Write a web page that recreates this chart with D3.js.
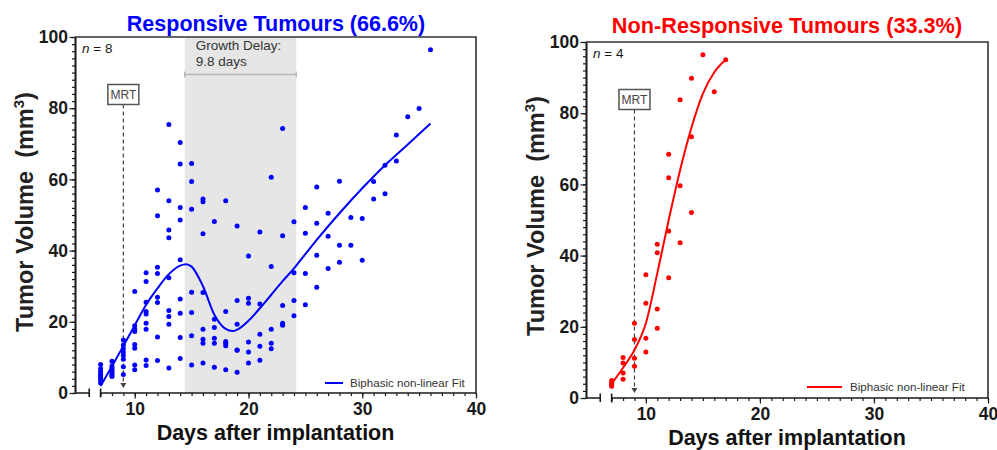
<!DOCTYPE html>
<html><head><meta charset="utf-8">
<script src="https://cdn.jsdelivr.net/npm/d3@7"></script>
<style>html,body{margin:0;padding:0;background:#fff}svg{display:block;font-family:"Liberation Sans",Arial,sans-serif}</style>
</head><body><svg id="c" width="997" height="450"></svg>
<script>
// ---------- DATA ----------
const respDays = [7,8,9,10,11,12,13,14,15,16,17,18,19,20,21,22,23,24,25,26,27,28,29,30,31,32,33,34,35,36];
const respVolumes = [
  [8.0,6.8,6.0,5.3,4.8,4.2,3.5,2.8],
  [8.9,7.6,7.0,6.5,6.0,5.5,5.0,4.6],
  [14.9,13.5,12.5,11.5,10.5,9.5,7.4,5.2],
  [28.5,18.9,17.9,17.3,13.6,12.6,7.9,6.5],
  [33.8,31.3,25.5,22.9,22.2,19.6,17.9,9.3,7.7],
  [57.0,49.8,35.3,33.6,26.9,25.4,15.7,9.1],
  [75.4,54.0,45.8,43.6,32.4,23.2,21.5,19.3,7.0],
  [70.4,64.3,52.1,48.6,37.4,26.4,22.4,15.6,9.7],
  [64.5,59.4,51.6,28.3,22.6,16.1,7.9],
  [54.5,53.7,44.7,28.2,17.9,15.1,14.0,8.4],
  [48.2,20.7,18.4,15.4,14.0,7.2],
  [54.0,22.9,14.5,14.0,13.3,6.5],
  [46.9,26.0,19.3,12.1,12.0,5.8],
  [38.5,26.6,25.2,14.3,11.5,8.4],
  [45.2,25.0,16.5,13.1,9.2],
  [60.6,35.5,17.9,14.0,12.4],
  [74.3,44.2,24.6,19.6,19.0],
  [48.1,33.8,26.0,21.7],
  [52.1,44.9,33.6,24.8],
  [57.9,47.7,38.7,29.7],
  [50.5,44.0,35.0],
  [59.5,41.5,36.7],
  [49.3,41.5],
  [49.0,37.3],
  [59.4,54.5],
  [64.0,56.0],
  [72.5,65.2],
  [77.6],
  [79.9],
  [96.4]
];
const respFitDays = [7,8,9,10,11,12,13,14,14.5,15,16,17,18,18.6,19,20,21,22,23,24,25,26,28,30,32,34,36];
const respFitVol  = [2.0,7.5,13.2,19.0,24.8,29.4,33.4,35.8,36.2,35.5,30.0,22.0,18.0,17.4,17.8,20.3,23.8,27.6,31.4,35.0,39.0,43.0,50.5,57.5,64.0,69.8,75.7];

const nonDays = [7,8,9,10,11,12,13,14,15,16,17];
const nonVolumes = [
  [4.9,4.3,3.8,3.3],
  [11.4,9.8,7.0,5.3],
  [21.0,16.4,11.2,8.9],
  [34.6,26.6,16.8,12.9],
  [43.2,40.8,25.0,19.6],
  [68.5,61.9,46.9,33.8],
  [83.8,59.6,43.6],
  [89.8,73.4,52.1],
  [96.4],
  [86.0],
  [95.0]
];
const nonFitDays = [7,8,9,10,11,12,13,14,15,16,17];
const nonFitVol  = [4.0,8.5,13.5,21.0,35.0,50.0,64.0,76.0,85.5,91.5,95.0];

const xMajorTicks = [10,20,30,40];
const yMajorTicks = [0,20,40,60,80,100];
const mrtDay = 9;
const growthDelayStart = 14.4, growthDelayEnd = 24.2;
const respTitle = "Responsive Tumours (66.6%)";
const nonTitle = "Non-Responsive Tumours (33.3%)";
const legendLabel = "Biphasic non-linear Fit";

// ---------- DRAW ----------
const svg = d3.select("#c");
const INK = "#1a1a1a";

function panel(o) {
  const g = svg.append("g");
  const x = d3.scaleLinear().domain([4.75, 40]).range([o.left, o.right]);
  const y = d3.scaleLinear().domain([0, 100]).range([o.bottom, o.top]);

  // growth delay shading
  if (o.delay) {
    g.append("rect").attr("x", x(growthDelayStart)).attr("y", o.top)
      .attr("width", x(growthDelayEnd) - x(growthDelayStart)).attr("height", o.bottom - o.top)
      .attr("fill", "#e6e6e6");
    const by = o.top + 37.5;
    g.append("path").attr("d", `M${x(growthDelayStart)},${by}H${x(growthDelayEnd)}M${x(growthDelayStart)},${by-3}V${by+3}M${x(growthDelayEnd)},${by-3}V${by+3}`)
      .attr("stroke", "#b5b5b5").attr("stroke-width", 1.5).attr("fill", "none");
    const t = g.append("text").attr("font-size", 13.5).attr("fill", "#333");
    t.append("tspan").attr("x", x(growthDelayStart) + 11).attr("y", o.top + 12.5).text("Growth Delay:");
    t.append("tspan").attr("x", x(growthDelayStart) + 11).attr("y", o.top + 29).text("9.8 days");
  }

  // MRT marker
  const mx = x(mrtDay);
  g.append("line").attr("x1", mx).attr("x2", mx).attr("y1", o.mrtTop + 20).attr("y2", o.bottom - 9)
    .attr("stroke", "#444").attr("stroke-width", 1.2).attr("stroke-dasharray", "4,3");
  g.append("path").attr("d", `M${mx-3},${o.bottom-10}L${mx+3},${o.bottom-10}L${mx},${o.bottom-5}Z`).attr("fill", "#444");
  g.append("rect").attr("x", mx - 15.5).attr("y", o.mrtTop).attr("width", 31).attr("height", 20)
    .attr("fill", "#fff").attr("stroke", "#555").attr("stroke-width", 1.5);
  g.append("text").attr("x", mx).attr("y", o.mrtTop + 14.5).attr("text-anchor", "middle")
    .attr("font-size", 12).attr("fill", "#444").text("MRT");

  // points
  const pts = [];
  o.days.forEach((d, i) => o.vols[i].forEach(v => pts.push([d, v])));
  g.append("g").selectAll("circle").data(pts).join("circle")
    .attr("cx", d => x(d[0])).attr("cy", d => y(d[1])).attr("r", 2.5).attr("fill", o.color);

  // fit
  const line = d3.line().x(d => x(d[0])).y(d => y(d[1])).curve(d3.curveMonotoneX);
  g.append("path").datum(o.fitDays.map((d, i) => [d, o.fitVol[i]]))
    .attr("d", line).attr("fill", "none").attr("stroke", o.color).attr("stroke-width", 2);

  // frame top & right
  g.append("path").attr("d", `M${o.left},${o.top}H${o.right}V${o.bottom}`)
    .attr("fill", "none").attr("stroke", "#333").attr("stroke-width", 1.6);

  // y axis
  const ya = g.append("g").attr("transform", `translate(${o.left},0)`);
  ya.call(d3.axisLeft(y).tickValues(d3.range(0, 101, 2)).tickSize(3).tickSizeOuter(0).tickFormat(""));
  ya.append("g").call(d3.axisLeft(y).tickValues(yMajorTicks).tickSize(5.5).tickSizeOuter(0).tickPadding(1.5).tickFormat(d3.format("d")));
  ya.selectAll("path.domain").attr("stroke", INK).attr("stroke-width", 1.6);
  ya.selectAll("line").attr("stroke", INK).attr("stroke-width", 1.2);
  ya.selectAll("text").attr("font-size", 17.5).attr("font-weight", "bold").attr("fill", INK)
    .attr("font-family", '"Liberation Sans",Arial,sans-serif');

  // x axis (with break)
  const xa = g.append("g").attr("transform", `translate(0,${o.bottom})`);
  xa.call(d3.axisBottom(x).tickValues(d3.range(7, 41, 1)).tickSize(3).tickSizeOuter(0).tickFormat(""));
  xa.append("g").call(d3.axisBottom(x).tickValues(xMajorTicks).tickSize(5.5).tickSizeOuter(0).tickPadding(3.8).tickFormat(d3.format("d")));
  xa.selectAll("path.domain").remove();
  xa.selectAll("line").attr("stroke", INK).attr("stroke-width", 1.2);
  xa.selectAll("text").attr("font-size", 17.5).attr("font-weight", "bold").attr("fill", INK)
    .attr("font-family", '"Liberation Sans",Arial,sans-serif');
  xa.append("path").attr("d", `M${o.left},0H${x(6)}M${x(6)},-4.5V4M${x(7)},0H${o.right}M${x(7)},-4.5V4.5`)
    .attr("fill", "none").attr("stroke", INK).attr("stroke-width", 1.6);

  // title
  g.append("text").attr("x", o.titleX).attr("y", o.titleY).attr("text-anchor", "middle")
    .attr("font-size", o.titleSize).attr("font-weight", "bold").attr("fill", o.color).text(o.title);

  // n label
  const nt = g.append("text").attr("x", o.left + 7).attr("y", o.top + 15.5).attr("font-size", 13.5).attr("fill", INK);
  nt.append("tspan").attr("font-style", "italic").text("n");
  nt.append("tspan").text(" = " + o.n);

  // axis titles
  const yl = g.append("text").attr("transform", `translate(${o.yLabelX},${o.yLabelY}) rotate(-90)`)
    .attr("text-anchor", "middle").attr("font-size", 23.5).attr("font-weight", "bold").attr("fill", "#222");
  yl.append("tspan").text("Tumor Volume\u00a0\u00a0(mm");
  yl.append("tspan").attr("dy", -9).attr("font-size", 15).text("3");
  yl.append("tspan").attr("dy", 9).text(")");
  g.append("text").attr("x", o.xLabelX).attr("y", o.xLabelY).attr("text-anchor", "middle")
    .attr("font-size", 21.5).attr("font-weight", "bold").attr("fill", "#111").text("Days after implantation");

  // legend
  g.append("line").attr("x1", o.legX1).attr("x2", o.legX2).attr("y1", o.legY).attr("y2", o.legY)
    .attr("stroke", o.color).attr("stroke-width", 2);
  g.append("text").attr("x", o.legTextX).attr("y", o.legY + 4).attr("font-size", 11.6).attr("fill", "#333").text(legendLabel);
}

panel({left: 75, right: 476, top: 37, bottom: 393, color: "#0000ff",
  days: respDays, vols: respVolumes, fitDays: respFitDays, fitVol: respFitVol,
  delay: true, mrtTop: 84.5, title: respTitle, titleX: 276, titleY: 31, titleSize: 21.5, n: 8,
  yLabelX: 32.5, yLabelY: 212, xLabelX: 275.5, xLabelY: 440,
  legX1: 325, legX2: 343, legY: 383, legTextX: 350});

panel({left: 586, right: 988, top: 42, bottom: 398, color: "#ff0000",
  days: nonDays, vols: nonVolumes, fitDays: nonFitDays, fitVol: nonFitVol,
  delay: false, mrtTop: 89.5, title: nonTitle, titleX: 787, titleY: 32.5, titleSize: 21.7, n: 4,
  yLabelX: 543.5, yLabelY: 216, xLabelX: 787, xLabelY: 445,
  legX1: 807, legX2: 842, legY: 387, legTextX: 850});
</script>
</body></html>
